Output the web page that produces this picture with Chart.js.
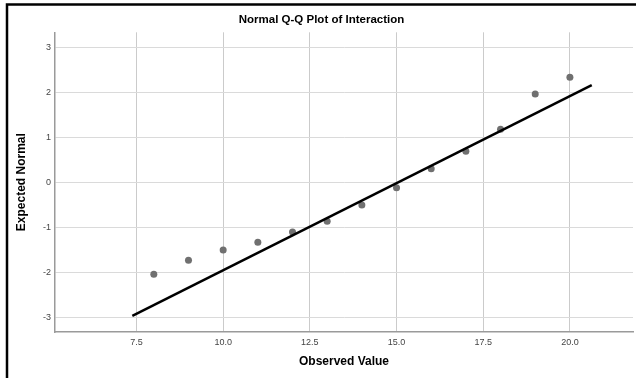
<!DOCTYPE html>
<html>
<head>
<meta charset="utf-8">
<script src="https://cdn.jsdelivr.net/npm/chart.js@4.4.0/dist/chart.umd.min.js"></script>
<style>
    html, body { margin: 0; padding: 0; background: #fff; }
    #wrap { width: 637px; height: 378px; position: relative; }
</style>
</head>
<body>
<div id="wrap"><canvas id="qqChart" width="637" height="378"></canvas></div>
<script>
// Observed values and their expected normal scores
const observed = [8, 9, 10, 11, 12, 13, 14, 15, 16, 17, 18, 19, 20];
const expectedNormal = [-2.04, -1.73, -1.50, -1.33, -1.10, -0.86, -0.50, -0.12, 0.30, 0.69, 1.18, 1.96, 2.33];

// Reference line end points
const lineX = [7.38, 20.63];
const lineY = [-2.96, 2.16];

const xTicks = [7.5, 10.0, 12.5, 15.0, 17.5, 20.0];
const yTicks = [-3, -2, -1, 0, 1, 2, 3];

const frame = {
    id: 'frame',
    beforeDraw(chart) {
        const c = chart.ctx;
        c.save();
        c.fillStyle = '#fff';
        c.fillRect(0, 0, chart.width, chart.height);
        c.strokeStyle = '#000';
        c.lineWidth = 2.5;
        c.beginPath();
        c.moveTo(7, chart.height);
        c.lineTo(7, 4.5);
        c.lineTo(636, 4.5);
        c.stroke();
        c.restore();
    }
};

const ctx = document.getElementById('qqChart');
new Chart(ctx, {
    type: 'scatter',
    data: {
        datasets: [
            {
                label: 'Observed',
                data: observed.map((v, i) => ({ x: v, y: expectedNormal[i] })),
                backgroundColor: '#707070',
                borderColor: '#707070',
                pointRadius: 3.5,
                pointBorderWidth: 0,
                order: 2
            },
            {
                type: 'line',
                label: 'Reference',
                data: lineX.map((v, i) => ({ x: v, y: lineY[i] })),
                borderColor: '#000',
                borderWidth: 2.5,
                pointRadius: 0,
                fill: false,
                order: 1
            }
        ]
    },
    options: {
        responsive: false,
        animation: false,
        devicePixelRatio: 1,
        layout: { padding: { left: 8, right: 2, top: 0, bottom: 0 } },
        plugins: {
            legend: { display: false },
            tooltip: { enabled: false },
            title: {
                display: true,
                text: 'Normal Q-Q Plot of Interaction',
                color: '#000',
                font: { family: 'Liberation Sans, Arial, sans-serif', size: 11.5, weight: 'bold' },
                padding: { top: 13, bottom: 5.5 }
            }
        },
        scales: {
            x: {
                type: 'linear',
                min: 5.15,
                max: 21.82,
                afterBuildTicks: s => { s.ticks = xTicks.map(v => ({ value: v })); },
                afterFit: s => { s.height = 46; },
                grid: { color: '#cbcbcb', drawTicks: false },
                border: { color: '#9a9a9a', width: 1.5 },
                ticks: {
                    padding: 5,
                    color: '#444',
                    font: { family: 'Liberation Sans, Arial, sans-serif', size: 9 },
                    maxRotation: 0,
                    callback: v => v.toFixed(1)
                },
                title: {
                    display: true,
                    text: 'Observed Value',
                    color: '#000',
                    font: { family: 'Liberation Sans, Arial, sans-serif', size: 12, weight: 'bold' },
                    padding: { top: 4, bottom: 9 }
                }
            },
            y: {
                type: 'linear',
                min: -3.32,
                max: 3.33,
                afterBuildTicks: s => { s.ticks = yTicks.map(v => ({ value: v })); },
                afterFit: s => { s.width = 47; },
                grid: { color: '#dadada', drawTicks: false },
                border: { color: '#9a9a9a', width: 1.5 },
                ticks: {
                    padding: 4,
                    color: '#444',
                    font: { family: 'Liberation Sans, Arial, sans-serif', size: 9 }
                },
                title: {
                    display: true,
                    text: 'Expected Normal',
                    color: '#000',
                    font: { family: 'Liberation Sans, Arial, sans-serif', size: 12, weight: 'bold' },
                    padding: { top: 6, bottom: 0 }
                }
            }
        }
    },
    plugins: [frame]
});
</script>
</body>
</html>
